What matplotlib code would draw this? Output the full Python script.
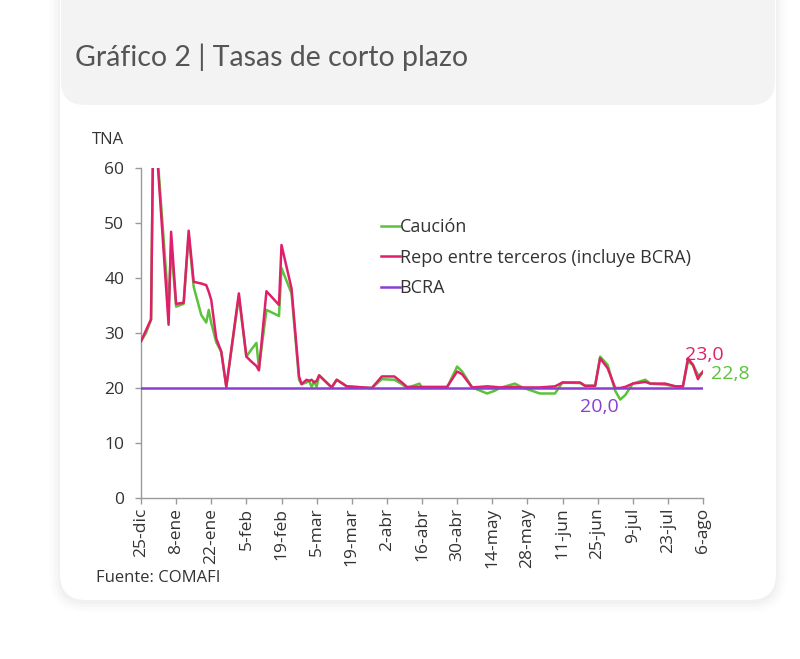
import matplotlib
matplotlib.use("Agg")
import matplotlib.pyplot as plt
from matplotlib.patches import FancyBboxPatch
import pandas as pd

# days since 25-dic-2022 for each observation
days = [0, 2, 4, 5, 11, 12, 14, 17, 19, 21, 24, 26, 27, 28, 30, 32, 34,
        39, 42, 44, 46, 47, 50, 55, 56, 60, 63, 64, 66, 67, 68, 69, 70, 71,
        76, 78, 82, 92, 96, 101, 104, 106, 111, 112, 122, 126, 128, 132,
        138, 141, 143, 149, 152, 159, 165, 168, 175, 177, 181, 183, 186,
        189, 191, 193, 196, 201, 203, 209, 213, 216, 218, 220, 222, 223, 224]
repo = [28.5, 30.5, 32.5, 72.0, 31.5, 48.4, 35.3, 35.5, 48.6, 39.3, 39.0,
        38.7, 37.5, 36.0, 29.0, 26.6, 20.2,
        37.2, 25.7, 24.8, 24.0, 23.2, 37.6, 35.1, 46.0, 38.1, 22.1, 20.7,
        21.5, 21.3, 21.5, 21.0, 21.3, 22.3,
        20.1, 21.5, 20.3, 20.0, 22.1, 22.1, 21.0, 20.2, 20.2, 20.2, 20.2,
        23.0, 22.5, 20.1,
        20.3, 20.2, 20.1, 20.2, 20.1, 20.1, 20.3, 21.0, 21.0, 20.4, 20.4,
        25.4, 23.6,
        20.0, 20.0, 20.2, 20.8, 21.1, 20.8, 20.8, 20.3, 20.3, 25.4, 24.2,
        21.6, 22.5, 23.0]
caucion = [28.5, 30.0, 32.4, 72.0, 34.8, 46.0, 34.8, 35.3, 47.8, 38.4, 33.3,
           31.9, 34.2, 31.8, 28.3, 26.6, 20.2,
           36.6, 25.7, 27.0, 28.2, 23.6, 34.2, 33.1, 41.8, 37.2, 21.5, 20.7,
           21.0, 21.3, 20.2, 21.2, 20.2, 22.3,
           20.1, 21.5, 20.3, 20.0, 21.6, 21.5, 20.7, 20.0, 20.8, 20.0, 20.1,
           23.9, 23.0, 20.1,
           19.0, 19.5, 20.0, 20.8, 20.1, 19.0, 19.0, 21.0, 20.9, 20.4, 20.4,
           25.7, 24.2,
           19.5, 17.9, 18.7, 20.8, 21.5, 20.8, 20.6, 20.3, 20.3, 24.8, 24.2,
           22.4, 22.3, 22.8]
bcra_days = [0, 224]
bcra = [20.0, 20.0]

tick_labels = ["25-dic", "8-ene", "22-ene", "5-feb", "19-feb", "5-mar",
               "19-mar", "2-abr", "16-abr", "30-abr", "14-may", "28-may",
               "11-jun", "25-jun", "9-jul", "23-jul", "6-ago"]

start = pd.Timestamp("2022-12-25")
dates = start + pd.to_timedelta(days, unit="D")
bcra_dates = start + pd.to_timedelta(bcra_days, unit="D")
tick_dates = start + pd.to_timedelta([14 * i for i in range(len(tick_labels))], unit="D")

GREEN = "#5cc23c"
RED = "#e01f6a"
PURPLE = "#8b3fd1"
TXT = "#333333"
GRAY = "#9a9a9a"

plt.rcParams["font.family"] = ["Open Sans", "DejaVu Sans"]

W, H = 800, 659
fig = plt.figure(figsize=(W / 100, H / 100), dpi=100)
fig.patch.set_facecolor("white")

# background card drawn in pixel coordinates
bg = fig.add_axes([0, 0, 1, 1], zorder=0)
bg.set_xlim(0, W)
bg.set_ylim(H, 0)
bg.axis("off")
for i, a in enumerate([0.018, 0.014, 0.01, 0.007]):
    grow = 2 + i * 3
    bg.add_patch(FancyBboxPatch((60 - grow, -40 - grow), 716 + 2 * grow, 640 + 2 * grow + 2,
                                boxstyle="round,pad=0,rounding_size=%d" % (26 + grow),
                                facecolor="#000000", edgecolor="none", alpha=a))
bg.add_patch(FancyBboxPatch((60, -40), 716, 640, boxstyle="round,pad=0,rounding_size=26",
                            facecolor="white", edgecolor="none"))
bg.add_patch(FancyBboxPatch((61, -40), 714, 145, boxstyle="round,pad=0,rounding_size=24",
                            facecolor="#f3f3f3", edgecolor="none"))
bg.text(75, 57, "Gráfico 2 | Tasas de corto plazo", fontsize=20.5, color="#555555",
        va="center", ha="left", family=["Lato", "DejaVu Sans"])
bg.text(92, 140, "TNA", fontsize=12, color=TXT, va="center", ha="left")
bg.text(96, 578, "Fuente: COMAFI", fontsize=12, color=TXT, va="center", ha="left")

ax = fig.add_axes([141 / W, 1 - 498 / H, 562 / W, 330 / H], zorder=1)
ax.patch.set_alpha(0)

ax.plot(dates, caucion, color=GREEN, lw=1.8, label="Caución", zorder=2)
ax.plot(dates, repo, color=RED, lw=1.8, label="Repo entre terceros (incluye BCRA)", zorder=3)
ax.plot(bcra_dates, bcra, color=PURPLE, lw=1.8, label="BCRA", zorder=4)

ax.set_ylim(0, 60)
ax.set_xlim(dates[0], dates[-1])
ax.set_yticks(range(0, 61, 10))
ax.set_xticks(tick_dates)
ax.set_xticklabels(tick_labels, rotation=90)

for s in ["top", "right"]:
    ax.spines[s].set_visible(False)
for s in ["left", "bottom"]:
    ax.spines[s].set_color(GRAY)
    ax.spines[s].set_linewidth(1.0)
ax.tick_params(axis="both", colors=GRAY, labelcolor=TXT, labelsize=12.5,
               length=4, width=1.0, direction="out")
ax.tick_params(axis="y", pad=8)
ax.tick_params(axis="x", pad=3)

ax.annotate("%.1f" % repo[-1], (dates[-1], repo[-1]), xytext=(1, 16),
            textcoords="offset pixels", color=RED, fontsize=14, ha="center", va="center")
ax.annotate("%.1f" % caucion[-1], (dates[-1], caucion[-1]), xytext=(8, -1),
            textcoords="offset pixels", color=GREEN, fontsize=14, ha="left", va="center")
ax.annotate("%.1f" % bcra[-1], (start + pd.Timedelta(days=182.5), bcra[-1]), xytext=(0, -19),
            textcoords="offset pixels", color=PURPLE, fontsize=14, ha="center", va="center")
for t in ax.texts:
    t.set_text(t.get_text().replace(".", ","))

leg = ax.legend(loc="upper left", bbox_to_anchor=(0.415, 0.87), frameon=False,
                fontsize=13, handlelength=1.0, handletextpad=0.0, labelspacing=0.7,
                borderaxespad=0, labelcolor=TXT)

fig.savefig("out.png", dpi=100)
